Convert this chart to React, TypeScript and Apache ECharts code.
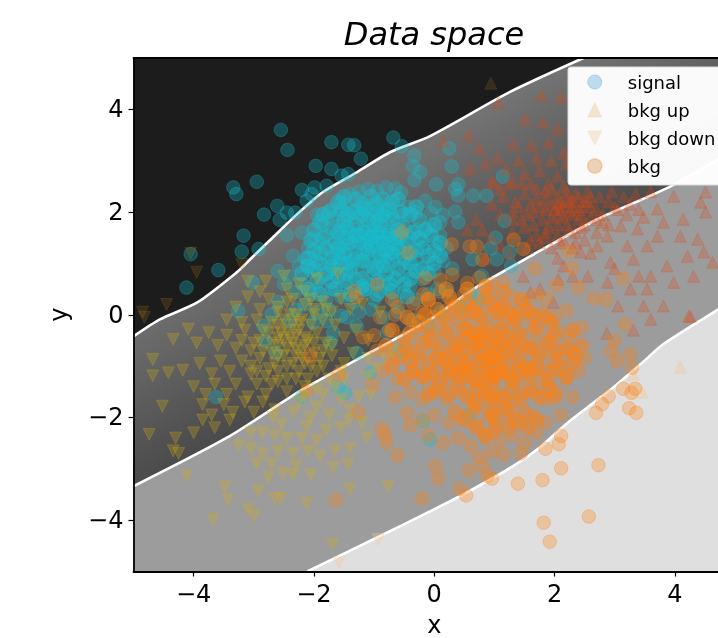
import React, { useEffect, useRef } from "react";
import * as echarts from "echarts";

type P = [number, number];

const titleText = "Data space";
const xTicks = [-4, -2, 0, 2, 4];
const yTicks = [-4, -2, 0, 2, 4];
const legendNames = ["signal", "bkg up", "bkg down", "bkg"];

const boundaryTop: P[] = [[-5,-0.42],[-4.56,-0.09],[-3.94,0.24],[-3.28,0.83],[-3.06,1.08],[-2.68,1.51],[-2.28,1.96],[-1.85,2.39],[-1.28,2.78],[-0.73,3.17],[-0.07,3.48],[1.26,4.34],[2.48,5]];
const boundaryMid: P[] = [[-5,-3.34],[-3.44,-2.39],[-2.18,-1.45],[-1.06,-0.73],[-0.07,-0.09],[0.65,0.5],[1.6,1.14],[2.71,1.86],[3.93,2.5],[5,3.22]];
const boundaryLow: P[] = [[-2.11,-5],[-1.06,-4.4],[-0.07,-3.83],[0.48,-3.5],[1.31,-2.95],[1.76,-2.58],[2.15,-2.17],[2.55,-1.8],[2.98,-1.41],[3.48,-0.91],[3.81,-0.57],[4.73,0.11],[5,0.3]];

const signal: P[] = [
[-2.55,3.6],[-2.44,3.21],[-1.71,3.36],[-1.43,3.31],[-1.33,3.3],[-1.22,3.04],[-0.68,3.45],[-0.54,3.28],[-1.97,2.9],[-1.71,2.84],[-2.95,2.59],[-3.34,2.48],[-3.29,2.35],[-2.83,1.95],[-2.61,2.12],[-2.2,2.43],[-1.99,2.48],[-2.12,2.22],[-2.04,2.35],[-1.79,2.51],[-1.54,2.71],[-1.43,2.74],[-2.57,1.85],[-2.45,1.99],[-2.31,1.99],[-3.17,1.54],[-3.2,1.23],[-2.92,1.28],[-3.59,0.87],[-4.12,0.53],[-4.05,1.18],[-3.26,0.07],[-3.02,0.63],[-2.45,1.55],[-0.33,3.1],[-0.35,2.89],[-0.23,2.78],[-0.33,2.62],
[0.25,3.24],[0.29,2.89],[0.03,2.54],[0.4,2.54],[0.35,2.45],[0.4,2.32],[0.65,2.32],[0.87,2.32],[1.14,2.69],[1.17,1.83],[0.35,2.01],[0.14,1.95],[0.1,1.8],[0.4,1.8],[1.02,1.5],[0.94,1.29],[1.25,1.22],[0.64,1.08],[1.04,1.08],[1.28,0.95],[0.79,0.76],
[-3.63,-1.6],[-2.63,-0.74],[-2.84,-0.22],[-2.81,-0.51],[-2.7,0.01],[-2.4,-0.12],[-2.01,-0.15],[-1.79,-0.12],[-1.68,-0.35],[-1.73,-0.54],[-1.45,-0.05],[-1.29,-0.22],[-0.79,-0.35],[-0.57,-0.71],[-1.29,-0.74],[-1.06,-1.13],[-1.48,-1.52],[-1.59,-1.42],[-2.2,-1.6],[-0.18,-2.07],[-0.07,-2.43],[0.57,-1.96],
[-1.72,2.05],[-1.55,2.2],[-1.4,2.35],[-1.25,2.4],[-1.1,2.45],[-0.95,2.42],[-0.8,2.48],[-0.65,2.46],[-0.55,2.38],[-0.42,2.1],[-0.3,2],[-0.15,2.22],[-0.05,1.98],[0.02,2.1],
[-1.95,1.95],[-1.85,1.75],[-1.7,1.85],[-1.6,1.95],[-1.5,1.75],[-1.4,2.05],[-1.3,1.9],[-1.2,2.1],[-1.1,1.95],[-1,2.15],[-0.9,1.9],[-0.8,2.05],[-0.7,1.95],[-0.6,1.8],[-0.5,1.95],
[-2.2,1.6],[-2.1,1.3],[-2,1.5],[-1.9,1.4],[-1.8,1.55],[-1.7,1.25],[-1.6,1.5],[-1.5,1.35],[-1.4,1.6],[-1.3,1.45],[-1.2,1.65],[-1.15,1.35],[-1.05,1.55],[-1,1.75],[-0.95,1.4],[-0.9,1.6],[-0.85,1.25],[-0.8,1.5],[-0.75,1.7],[-0.7,1.4],[-0.6,1.55],[-0.5,1.3],[-0.4,1.5],[-0.3,1.65],[-0.2,1.45],[-0.1,1.7],[0,1.4],[0.1,1.55],[0.2,1.3],
[-2.35,1.15],[-2.25,0.95],[-2.15,1.1],[-2.05,0.85],[-1.95,1.05],[-1.85,0.75],[-1.75,1],[-1.65,0.9],[-1.55,1.1],[-1.45,0.8],[-1.35,1.05],[-1.3,0.7],[-1.2,1.2],[-1.1,0.95],[-1.05,1.15],[-1,0.8],[-0.9,1.05],[-0.85,0.65],[-0.75,0.95],[-0.65,1.15],[-0.6,0.75],[-0.5,1],[-0.4,0.85],[-0.3,1.1],[-0.2,0.7],[-0.1,1],[0,0.85],[0.15,1.05],[0.3,0.9],
[-2.6,0.85],[-2.5,0.6],[-2.4,0.75],[-2.3,0.45],[-2.2,0.6],[-2.05,0.4],[-1.9,0.55],[-1.8,0.3],[-1.7,0.5],[-1.55,0.35],[-1.45,0.55],[-1.35,0.25],[-1.2,0.45],[-1.1,0.6],[-1,0.3],[-0.9,0.45],[-0.75,0.5],[-0.65,0.25],[-0.5,0.45],[-0.4,0.55],[-0.3,0.3],[-0.1,0.4],[0.05,0.5],[0.2,0.45],
[-2.6,0.25],[-2.3,0.1],[-2.15,0.2],[-1.95,0.05],[-1.75,0.1],[-1.55,-0.02],[-1.25,0.05],[-1.05,0.1],[-0.85,-0.05],[-0.6,0.05],[-0.35,-0.1],[-0.1,-0.2],[0.1,0.05],[0.45,0.15],[0.6,0.4],[0.75,0.3],
[-1.25,1.55],[-1.12,1.42],[-1.02,1.62],[-0.92,1.5],[-0.98,1.3],[-1.15,1.7],[-0.85,1.42],[-0.78,1.62],[-1.3,1.2],[-1.45,1.25],[-1.55,1.65],[-0.72,1.22],[-0.62,1.38],[-1.08,1.05],[-1.2,0.85],[-1.38,0.9],[-0.95,0.92],[-0.82,1.08],[-1.6,1.2],[-0.68,1.05],
];

const signalCore: P[] = [
[-1.5,2.3],[-1.3,2.25],[-1.05,2.3],[-0.85,2.25],[-0.6,2.25],
[-1.75,2],[-1.55,2.05],[-1.35,2],[-1.15,2.05],[-0.95,2],[-0.75,2.05],[-0.55,2],[-0.3,2.1],
[-1.9,1.8],[-1.7,1.7],[-1.5,1.85],[-1.3,1.75],[-1.1,1.85],[-0.9,1.75],[-0.7,1.85],[-0.5,1.7],[-0.25,1.85],[0,1.75],
[-2.05,1.45],[-1.85,1.5],[-1.65,1.4],[-1.45,1.5],[-1.25,1.4],[-1.05,1.5],[-0.85,1.4],[-0.65,1.5],[-0.45,1.4],[-0.25,1.5],[-0.05,1.55],[0.1,1.4],
[-2.1,1.1],[-1.9,1.2],[-1.7,1.1],[-1.5,1.2],[-1.3,1.1],[-1.1,1.25],[-0.9,1.15],[-0.7,1.2],[-0.5,1.1],[-0.3,1.25],[-0.1,1.15],[0.1,1.15],
[-2.2,0.8],[-2,0.9],[-1.8,0.8],[-1.6,0.75],[-1.4,0.85],[-1.2,0.7],[-1,0.9],[-0.8,0.8],[-0.6,0.9],[-0.4,0.7],[-0.2,0.9],[0,1],
[-2.1,0.5],[-1.9,0.4],[-1.65,0.5],[-1.4,0.4],[-1.15,0.5],[-0.95,0.4],[-0.7,0.45],[-0.45,0.35],
[-1.15,1.6],[-0.95,1.6],[-1.05,1.35],[-0.8,1.25],[-1.3,1.55],[-0.75,1.55],[-1.2,1.95],[-0.95,1.85],[-1.45,1.7],[-0.6,1.65],[-1.55,1],[-0.4,1],
[-1.6,2.2],[-1.2,2.15],[-0.95,2.15],[-0.7,2.2],[-1.85,1.95],[-1.45,1.95],[-0.85,1.95],[-0.4,1.95],[-2,1.65],[-1.6,1.6],[-1.4,1.4],[-0.55,1.55],[-0.35,1.6],[-0.15,1.65],[-2,1.25],[-1.8,1.3],[-1.6,1.3],[-1.2,1.05],[-0.6,1.3],[-0.4,1.2],[-0.2,1.3],[0,1.25],[-2.1,0.95],[-1.9,1],[-1.7,0.95],[-1.45,1],[-0.85,0.95],[-0.65,0.7],[-0.3,0.85],[-0.1,0.8],[-1.95,0.65],[-1.7,0.65],[-1.45,0.65],[-1.2,0.55],[-0.95,0.65],[-0.75,0.6],[-0.5,0.6],
];

const bkgUpFaintDark: P[] = [[0.94,4.51]];
const bkgUpPale: P[] = [[4.09,-1.02],[3.46,-1.51],[3.31,-1.16]];
const bkgUp: P[] = [
[0.57,3.5],[0.15,3.39],[1.31,3.32],[1.07,4.14],[1.78,4.27],[2.1,4.24],[1.51,3.81],[1.81,3.75],[2.06,3.62],[1.62,3.3],[1.9,3.35],[2.15,3.15],[1.4,3],[1.7,3.05],[1.95,3],[2.2,2.95],[1.2,2.85],[1.5,2.75],[1.75,2.8],[2.05,2.7],[0.85,2.95],[1.05,3.05],[0.75,3.25],[0.6,2.85],[1.3,2.6],[1.6,2.55],[1.9,2.55],[2.15,2.5],[0.95,2.6],[1.1,2.45],
[0.95,2.15],[1.15,2.3],[1.35,2.2],[1.5,2.35],[1.7,2.25],[1.85,2.4],[2.05,2.3],[2.2,2.4],[2.4,2.3],[2.55,2.4],[2.75,2.3],[2.95,2.4],[3.15,2.3],[3.35,2.35],[3.6,2.4],
[1.1,1.95],[1.3,2],[1.45,1.85],[1.65,2],[1.8,1.85],[2,2.05],[2.15,1.9],[2.3,2.1],[2.45,1.95],[2.6,2.1],[2.8,1.95],[3,2.1],[3.2,1.95],[3.4,2.05],
[1.3,1.6],[1.5,1.7],[1.7,1.55],[1.9,1.7],[2.05,1.55],[2.2,1.75],[2.35,1.6],[2.5,1.75],[2.7,1.6],[2.9,1.75],
[1.55,1.3],[1.75,1.4],[1.95,1.3],[2.15,1.45],[2.3,1.3],[2.5,1.45],[2.7,1.85],[2.1,2.2],[2.3,2.22],[2.5,2.2],[2.25,2],[2.4,1.85],[1.95,2.15],[1.85,2.05],
[0.7,1.85],[0.55,1.65],[0.95,1.5],[1.1,1.35],[0.8,1.65],[1.25,1.2],[0.85,1.1],
[4.51,2.39],[4.43,2.19],[4.51,2],[3.98,2.31],[3.71,2.06],[3.48,1.9],[3.81,1.8],[4.14,1.86],[4.38,1.47],[4.09,1.53],[3.71,1.53],[3.38,1.67],[3.1,1.73],[2.88,1.53],[3.21,1.34],[3.54,1.34],[3.87,0.95],[4.21,1.14],[4.48,1.22],[2.43,1.22],[2.71,1.34],[2.93,1.02],[3.31,1.08],[3.6,0.75],[3.98,0.63],[4.31,0.75],[4.63,1.02],[2.15,0.95],[2.55,0.75],[2.88,0.63],[3.26,0.5],[3.54,0.5],[3.81,0.17],[4.26,-0.03],[3.48,0.17],[3.05,0.17],[2.06,0.69],[1.76,0.5],[1.48,0.75],[1.6,0.44],[1.98,0.24],[2.6,1.2],[3,0.9],[2.3,0.75],[2.05,1.1],[3.4,0.75],
[3.6,-0.09],[4.23,-0.03],[2.87,-0.36],[3.31,-0.3],
[1.3,1.85],[1.55,1.95],[1.75,2.1],[1.95,1.9],[2.1,2.05],[2.25,2.2],[2.4,2.05],[2.55,2.2],[2.7,2.05],[2.9,2.2],[3.05,2.05],[3.25,2.15],[1.4,2.1],[1.6,2.15],[1.85,2.25],[2.05,2.15],[2.35,2.35],[2.6,2.3],[1.65,1.75],[1.85,1.6],[2.05,1.75],[2.25,1.65],[2.45,1.7],[2.6,1.9],[2.8,1.8],[1.6,1.45],[1.85,1.5],[2.1,1.4],[2.35,1.4],[1,2.55],[1.25,2.55],[1.45,2.55],[1.7,2.45],[1.95,2.45],[2.2,2.25],[2.05,1.95],[2.15,2.1],[2.3,1.95],[2.45,2.1],
];

const bkgDownFaintDark: P[] = [[-4.85,0.05],[-4.82,-0.05],[-4.45,0.2],[-3.95,0.83],[-4.05,1.2],[-3.2,0.98]];
const bkgDownPale: P[] = [[-1.58,-4.83],[-0.93,-4.38]];
const bkgDown: P[] = [
[-4.09,-0.28],[-4.34,-0.48],[-4.68,-0.87],[-4.68,-1.19],[-4.42,-1.13],[-4.18,-1.08],[-4.52,-1.78],[-4.74,-2.33],[-4.34,-2.65],[-4.11,-3.14],[-3.48,-3.36],[-3.43,-3.61],[-3.68,-3.99],[-3.09,-3.79],[-2.99,-3.92],[-2.93,-3.43],[-2.65,-3.58],[-2.55,-3.58],[-2.12,-3.67],[-1.69,-4.47],[-1.4,-3.4],[-0.77,-3.34],[-2.76,-3.17],[-2.52,-3.09],[-2.05,-3.12],[-2.35,-3.12],[-1.68,-2.97],[-1.43,-2.91],[-1.12,-2.39],
[-3.95,-0.55],[-3.75,-0.35],[-3.6,-0.6],[-3.45,-0.4],[-3.3,-0.65],[-3.15,-0.3],[-3,-0.55],[-2.85,-0.3],[-2.7,-0.55],[-2.55,-0.35],[-2.4,-0.45],[-2.25,-0.3],[-2.1,-0.5],[-1.95,-0.35],[-1.8,-0.55],[-1.65,-0.2],[-1.5,-0.45],[-1.3,-0.3],[-1.1,-0.5],
[-3.9,-0.95],[-3.7,-1.15],[-3.55,-0.9],[-3.4,-1.1],[-3.2,-0.9],[-3.05,-1.15],[-2.9,-0.85],[-2.75,-1.05],[-2.6,-0.8],[-2.45,-1],[-2.3,-0.8],[-2.15,-0.95],[-2,-0.75],[-1.85,-1],[-1.7,-0.8],[-1.5,-0.95],[-1.35,-0.75],[-1.1,-0.85],
[-4,-1.4],[-3.8,-1.55],[-3.65,-1.35],[-3.45,-1.55],[-3.3,-1.35],[-3.1,-1.6],[-2.95,-1.35],[-2.8,-1.55],[-2.6,-1.3],[-2.45,-1.5],[-2.3,-1.25],[-2.15,-1.4],
[-3.85,-1.75],[-3.7,-1.95],[-3.5,-1.75],[-3.35,-1.9],[-3.15,-1.7],[-3,-1.9],[-2.85,-1.7],[-2.65,-1.85],
[-4,-2.3],[-3.85,-2.05],[-3.65,-2.2],[-3.4,-2.05],[-4.3,-2.4],[-4.25,-2.7],
[-3.3,0.15],[-3.1,0.35],[-2.9,0.1],[-2.75,0.3],[-2.6,0.05],[-2.45,0.25],[-2.3,0],[-2.15,0.2],[-2,0],[-1.85,0.25],[-1.7,0.05],[-1.55,0.3],[-1.4,0.1],[-1.2,0.2],[-0.9,0.05],[-3.45,-0.1],[-3.2,-0.15],[-2.95,-0.1],[-2.7,-0.15],[-2.5,-0.1],[-2.25,-0.15],[-2.05,-0.2],[-1.85,-0.1],[-3.1,0.65],[-2.8,0.65],[-2.5,0.75],[-2.25,0.6],[-1.95,0.7],[-1.6,0.8],[-2.45,0.5],[-2.9,0.45],[-2.15,0.45],
[-2.5,-0.5],[-2.35,-0.55],[-2.45,-0.65],[-2.3,-0.65],[-2.6,-0.6],[-2.2,-0.7],[-2.15,-0.45],[-2.7,-0.75],
[-2.68,-2],[-2.54,-2.13],[-2.06,-2],[-2.12,-2.17],[-2.34,-1.9],[-2.25,-1.7],[-1.95,-1.8],[-1.85,-1.55],[-1.65,-1.4],[-1.5,-1.25],[-1.55,-1.65],[-1.75,-1.95],[-1.4,-1.85],[-1.25,-1.6],[-1.1,-1.2],[-0.95,-1.05],[-0.8,-0.85],[-0.7,-0.7],[-1.05,-1.55],[-1.42,-2.05],[-1.55,-2.2],[-1.8,-2.25],[-1.95,-2.45],[-2.2,-2.4],[-2.45,-2.4],[-2.65,-2.35],[-2.85,-2.3],[-3.05,-2.3],[-3.25,-2.55],[-3.05,-2.6],[-2.85,-2.7],[-2.6,-2.65],[-2.35,-2.7],[-2.1,-2.65],[-1.9,-2.75],[-1.65,-2.65],[-1.4,-2.6],[-1.2,-2.1],[-2.7,-2.9],[-2.95,-2.9],[-2.3,-2.95],
[-2.9,-0.5],[-2.75,-0.35],[-2.6,-0.45],[-2.45,-0.3],[-2.3,-0.4],[-2.15,-0.6],[-2,-0.55],[-1.85,-0.7],[-1.7,-0.6],[-2.85,-0.7],[-2.65,-0.95],[-2.5,-0.8],[-2.35,-0.95],[-2.2,-0.85],[-2.05,-1],[-1.9,-0.85],[-2.8,-1.2],[-2.6,-1.1],[-2.45,-1.25],[-2.25,-1.1],[-2.1,-1.25],[-1.95,-1.1],[-3.05,-0.7],[-3.2,-0.5],[-3.05,-1],[-2.95,-1.1],[-2.7,-1.35],[-2.4,0],[-2.2,-0.1],[-2,0.1],[-2.6,0.15],[-1.8,0.1],[-2.35,0.3],[-2.05,0.3],[-2.6,-0.2],[-2.35,-0.2],[-2.15,-1.6],[-1.95,-1.45],[-1.75,-1.25],[-1.55,-1.1],
];

const bkg: P[] = [
[1.92,-4.42],[1.82,-4.05],[2.57,-3.93],[1.39,-3.29],[1.8,-3.22],[2.11,-2.99],[2.73,-2.93],[1.85,-2.61],[2.07,-2.52],[2.11,-2.36],[2.69,-1.91],[2.79,-1.74],[2.9,-1.59],[3.14,-1.44],[3.28,-1.52],[3.34,-1.44],[3.24,-1.82],[3.36,-1.91],[3.29,-1.03],[3.04,-0.9],[3.26,-0.77],[2.94,-0.71],[3,-0.51],[3.17,-0.19],[0.53,-3.52],[0.42,-3.39],[0.96,-3.19],[0.88,-3.14],[0.58,-3.03],[0.07,-3.19],[0.02,-2.95],[0.74,-2.77],[0.96,-2.67],[0.81,-2.95],[1.44,-2.7],[1.15,-2.72],
[-1.63,-3.61],[-0.2,-3.58],[-1.26,-1.9],[-0.61,-2.74],[-0.79,-2.49],[-0.82,-2.33],[-0.87,-2.21],[-0.4,-2.15],[-1.02,-1.35],[-1.59,-1.16],[-2.12,-1.49],[-2.06,-0.8],[-1.18,-0.44],
[2.23,1.24],[2.29,0.91],[3.14,0.71],[2.4,0.53],[2.03,0.57],[1.32,1.46],[1.48,1.28],[0.8,1.07],[0.59,1.33],[0.71,1.33],[0.29,1.37],[1.68,0.9],[1.87,0.32],[2.65,0.32],[2.86,0.3],[-0.54,1.61],[-0.44,1.21],[-0.95,0.59],[-1.33,0.46],[-1.3,0.34],[-0.61,0.15],[-0.18,0.4],
[-0.15,0.72],[0.1,0.68],[0.3,0.78],[0.55,0.62],[0.75,0.72],[0.95,0.6],[1.15,0.62],
[-0.7,0.3],[-0.35,0.22],[-0.1,0.28],[0.1,0.45],[0.3,0.25],[0.5,0.4],[0.7,0.22],[0.9,0.42],[1.1,0.25],[1.3,0.35],[1.5,0.2],[1.7,0.38],
[-0.9,-0.05],[-0.65,0],[-0.4,-0.1],[-0.2,0.05],[0,-0.05],[0.2,0.08],[0.4,-0.1],[0.6,0.05],[0.8,-0.08],[1,0.08],[1.2,-0.1],[1.4,0.05],[1.6,-0.1],[1.8,0.05],[2,-0.05],[2.2,0.08],
[-1,-0.4],[-0.75,-0.3],[-0.5,-0.45],[-0.3,-0.25],[-0.1,-0.4],[0.1,-0.3],[0.3,-0.45],[0.5,-0.25],[0.7,-0.4],[0.85,-0.3],[1.05,-0.45],[1.25,-0.25],[1.45,-0.4],[1.65,-0.3],[1.85,-0.45],[2.05,-0.3],[2.25,-0.42],[2.45,-0.25],
[-0.95,-0.7],[-0.7,-0.85],[-0.45,-0.7],[-0.25,-0.85],[-0.05,-0.7],[0.15,-0.85],[0.35,-0.7],[0.55,-0.85],[0.75,-0.7],[0.9,-0.85],[1.1,-0.7],[1.3,-0.85],[1.5,-0.7],[1.7,-0.85],[1.9,-0.7],[2.1,-0.85],[2.3,-0.7],[2.5,-0.85],
[-0.85,-1.1],[-0.6,-1.25],[-0.35,-1.1],[-0.15,-1.25],[0.05,-1.1],[0.25,-1.25],[0.45,-1.1],[0.65,-1.25],[0.85,-1.1],[1,-1.25],[1.2,-1.1],[1.4,-1.25],[1.6,-1.1],[1.8,-1.25],[2,-1.1],[2.2,-1.25],[2.4,-1.1],
[-0.65,-1.6],[-0.4,-1.5],[-0.2,-1.65],[0,-1.5],[0.2,-1.65],[0.45,-1.5],[0.65,-1.65],[0.85,-1.5],[1.05,-1.65],[1.25,-1.5],[1.45,-1.65],[1.65,-1.5],[1.85,-1.65],[2.05,-1.5],[2.3,-1.6],
[-0.45,-1.9],[-0.2,-2.05],[0,-1.95],[0.25,-2.1],[0.5,-2],[0.7,-2.15],[0.9,-2],[1.05,-2.15],[1.25,-2],[1.45,-2.1],[1.65,-1.95],[1.85,-2.1],[2.1,-1.95],
[-0.1,-2.35],[0.15,-2.5],[0.4,-2.4],[0.6,-2.55],[0.85,-2.4],[1.1,-2.45],[1.3,-2.35],[1.5,-2.5],[1.7,-2.3],
[0.5,-0.9],[0.7,-1],[0.9,-0.95],[1,-1.05],[1.1,-0.9],[0.8,-1.3],[0.95,-1.4],[1.05,-1.5],[0.75,-0.5],[0.65,-0.6],[0.95,-0.6],[1.1,-0.55],[1.25,-0.65],[0.6,-0.15],[0.85,-0.2],[1.05,-0.15],[1.3,-1.35],[1.15,-1.8],[0.95,-1.75],[0.35,-0.55],[0.4,-0.95],[1.5,-1],[1.65,-0.55],[1.35,-0.1],[0.25,-0.15],
];

const bkgCore: P[] = [
[-0.1,0.3],[0.25,0.35],[0.55,0.25],[0.85,0.35],[1.15,0.15],[1.45,0.3],
[-0.45,-0.05],[-0.15,0],[0.15,-0.05],[0.45,0.05],[0.75,0],[1.05,0.05],[1.35,-0.05],[1.65,0],[1.95,-0.15],
[-0.7,-0.3],[-0.4,-0.35],[-0.1,-0.25],[0.2,-0.35],[0.5,-0.3],[0.8,-0.35],[1.1,-0.3],[1.4,-0.35],[1.7,-0.25],[2,-0.4],[2.3,-0.3],
[-0.8,-0.6],[-0.5,-0.6],[-0.2,-0.55],[0.1,-0.65],[0.4,-0.6],[0.7,-0.55],[1,-0.65],[1.3,-0.55],[1.6,-0.65],[1.9,-0.55],[2.2,-0.65],[2.45,-0.6],
[-0.7,-1],[-0.4,-0.9],[-0.1,-0.95],[0.2,-0.9],[0.5,-1],[0.8,-0.9],[1.1,-1],[1.4,-0.9],[1.7,-1],[2,-0.9],[2.3,-0.95],
[-0.5,-1.25],[-0.2,-1.2],[0.1,-1.3],[0.4,-1.2],[0.7,-1.3],[1,-1.2],[1.3,-1.3],[1.6,-1.2],[1.9,-1.3],[2.2,-1.2],
[-0.1,-1.55],[0.25,-1.55],[0.55,-1.6],[0.85,-1.55],[1.15,-1.6],[1.45,-1.55],[1.75,-1.6],[2,-1.6],
[0.35,-1.9],[0.65,-1.85],[0.95,-1.9],[1.2,-1.85],[1.5,-1.9],
[0.7,-2.2],[1,-2.25],[1.25,-2.2],[1.55,-2.2],
[0.6,-1.05],[0.85,-1.1],[1,-0.85],[0.75,-0.75],[0.9,-1.25],[1.1,-1.15],[0.7,-1.45],[0.95,-1.6],[0.5,-0.7],[1.2,-0.75],[0.3,-1.05],[1.4,-1.1],[0.85,-0.5],[1,-0.4],[0.65,-0.35],
[-0.55,-0.8],[-0.3,-0.75],[-0.05,-0.5],[0.05,-0.85],[0.3,-0.75],[0.55,-0.45],[0.95,-0.8],[1.2,-0.45],[1.45,-0.6],[1.75,-0.75],[2.05,-0.7],[2.35,-0.8],[-0.35,-1.1],[-0.05,-1.15],[0.25,-1.1],[0.55,-1.2],[1.25,-1.15],[1.55,-1.05],[1.85,-1.1],[2.1,-1.05],[0.05,-1.45],[0.4,-1.4],[0.7,-1.75],[1,-2],[1.3,-1.7],[1.6,-1.45],[1.9,-1.45],[0.5,-2.05],[0.85,-2.35],[1.35,-2.05],[1.7,-2.05],[-0.25,-0.15],[0.05,0.1],[0.35,0.15],[0.65,0.1],[0.95,0.2],[1.25,0.05],[1.55,0.1],[1.85,-0.05],[0.2,0.5],[0.55,0.5],[0.85,0.55],[1.15,0.45],
];

const UP_PATH = "path://M1,0 L2,2 L0,2 Z";
const DOWN_PATH = "path://M0,0 L2,0 L1,2 Z";
const FONT = "DejaVu Sans";

function bandSeries(points: P[], fill: any) {
  return {
    type: "custom",
    silent: true,
    z: 0,
    data: [[0, 0]],
    renderItem: (_p: any, api: any) => ({
      type: "polygon",
      shape: { points: points.map((q) => api.coord(q)) },
      style: { fill: typeof fill === "function" ? fill(api) : fill },
    }),
  };
}

function pointSeries(name: string, data: P[], symbol: string, rgba: string, size: number, border = 1) {
  return {
    name,
    type: "scatter",
    z: 3,
    data,
    symbol,
    symbolSize: size,
    silent: true,
    itemStyle: { color: rgba, borderColor: rgba, borderWidth: border },
  };
}

function boundarySeries(data: P[]) {
  return {
    type: "line",
    data,
    z: 2,
    symbol: "none",
    silent: true,
    smooth: 0.25,
    lineStyle: { color: "#ffffff", width: 2.6 },
  };
}

function axisBase(ticks: number[]) {
  return {
    type: "value",
    min: -5,
    max: 5,
    z: 6,
    splitLine: { show: false },
    axisLine: { show: true, onZero: false, lineStyle: { color: "#000", width: 1.8 } },
    axisTick: { show: true, customValues: ticks, length: 5, lineStyle: { color: "#000", width: 1.2 } },
    axisLabel: {
      show: true,
      customValues: ticks,
      color: "#000",
      fontFamily: FONT,
      fontSize: 24,
      margin: 10,
      formatter: (v: number) => String(v).replace("-", "\u2212"),
    },
    nameTextStyle: { color: "#000", fontFamily: FONT, fontSize: 24 },
  };
}

function frameAxis(position: string) {
  return {
    type: "value",
    position,
    min: -5,
    max: 5,
    z: 6,
    splitLine: { show: false },
    axisTick: { show: false },
    axisLabel: { show: false },
    axisLine: { show: true, onZero: false, lineStyle: { color: "#000", width: 1.8 } },
  };
}

export default function App() {
  const ref = useRef<HTMLDivElement>(null);
  useEffect(() => {
    document.body.style.margin = "0";
    document.body.style.overflow = "hidden";
    const chart = echarts.init(ref.current!, null, { renderer: "svg" });
    const midGradient = (api: any) => {
      const a = api.coord([-2.23, 2.0]);
      const b = api.coord([-0.95, -0.71]);
      return new echarts.graphic.LinearGradient(a[0], a[1], b[0], b[1], [
        { offset: 0, color: "#737373" },
        { offset: 1, color: "#4b4b4b" },
      ], true);
    };
    chart.setOption({
      animation: false,
      backgroundColor: "#fff",
      title: {
        text: titleText,
        left: 429,
        top: 13,
        textAlign: "center",
        textStyle: { fontFamily: FONT, fontSize: 32, fontStyle: "italic", fontWeight: "normal", color: "#000" },
      },
      grid: { left: 133.5, top: 58, width: 601.5, height: 513.5, outerBoundsMode: "none" },
      xAxis: [
        { ...axisBase(xTicks), name: "x", nameLocation: "middle", nameGap: 41 },
        frameAxis("top"),
      ],
      yAxis: [
        { ...axisBase(yTicks), name: "y", nameLocation: "middle", nameGap: 63 },
        frameAxis("right"),
      ],
      legend: {
        orient: "vertical",
        left: 568,
        top: 67,
        z: 8,
        align: "left",
        padding: [6, 40, 10, 19],
        itemWidth: 44,
        itemHeight: 14,
        itemGap: 10,
        backgroundColor: "rgba(255,255,255,0.97)",
        borderColor: "#dcdcdc",
        borderWidth: 1,
        borderRadius: 3,
        selectedMode: false,
        textStyle: { fontFamily: FONT, fontSize: 18, color: "#000", lineHeight: 18, padding: [0, 0, 0, 6] },
        data: [
          { name: legendNames[0], icon: "circle", itemStyle: { color: "rgba(90,175,215,0.5)", borderColor: "rgba(90,175,215,0.5)", borderWidth: 1 } },
          { name: legendNames[1], icon: UP_PATH, itemStyle: { color: "rgba(235,200,160,0.55)", borderColor: "rgba(235,200,160,0.4)", borderWidth: 1 } },
          { name: legendNames[2], icon: DOWN_PATH, itemStyle: { color: "rgba(240,215,175,0.6)", borderColor: "rgba(240,215,175,0.4)", borderWidth: 1 } },
          { name: legendNames[3], icon: "circle", itemStyle: { color: "rgba(225,190,150,0.8)", borderColor: "rgba(255,165,90,0.7)", borderWidth: 1.5 } },
        ],
      },
      series: [
        bandSeries([...boundaryTop, [-5, 5] as P], "#1c1c1c"),
        bandSeries([...boundaryTop, [5, 5] as P, ...[...boundaryMid].reverse()], midGradient),
        bandSeries([...boundaryMid, ...[...boundaryLow].reverse(), [-5, -5] as P], "#9c9c9c"),
        bandSeries([...boundaryLow, [5, -5] as P], "#dfdfdf"),
        boundarySeries(boundaryTop),
        boundarySeries(boundaryMid),
        boundarySeries(boundaryLow),
        pointSeries(legendNames[0], signal, "circle", "rgba(23,190,207,0.38)", 13.5),
        pointSeries(legendNames[0], signalCore, "circle", "rgba(23,190,207,0.6)", 14.5),
        pointSeries(legendNames[1], bkgUp, UP_PATH, "rgba(225,70,15,0.3)", 12),
        pointSeries(legendNames[1], bkgUpPale, UP_PATH, "rgba(245,195,140,0.4)", 12),
        pointSeries(legendNames[1], bkgUpFaintDark, UP_PATH, "rgba(170,125,40,0.22)", 12),
        pointSeries(legendNames[2], bkgDown, DOWN_PATH, "rgba(210,175,20,0.33)", 12),
        pointSeries(legendNames[2], bkgDownPale, DOWN_PATH, "rgba(245,200,150,0.4)", 12),
        pointSeries(legendNames[2], bkgDownFaintDark, DOWN_PATH, "rgba(170,125,20,0.25)", 12),
        pointSeries(legendNames[3], bkg, "circle", "rgba(255,127,14,0.38)", 13.5),
        pointSeries(legendNames[3], bkgCore, "circle", "rgba(255,127,14,0.6)", 14.5),
      ],
    });
    return () => chart.dispose();
  }, []);
  return (
    <div style={{ position: "fixed", left: 0, top: 0, width: 718, height: 638, overflow: "hidden", background: "#fff" }}>
      <div ref={ref} style={{ width: 800, height: 638, filter: "blur(0.4px)" }} />
    </div>
  );
}
